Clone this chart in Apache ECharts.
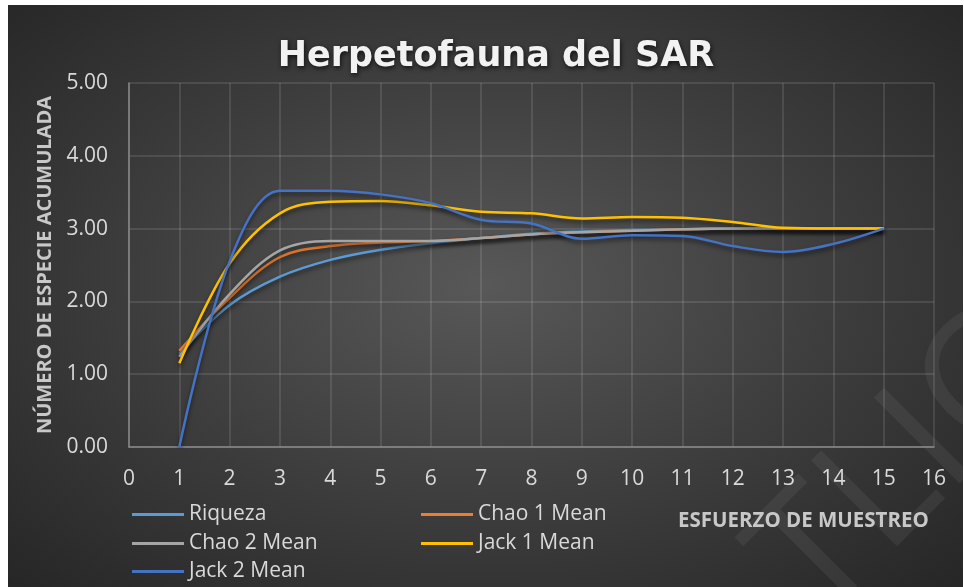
<!DOCTYPE html>
<html>
<head>
<meta charset="utf-8">
<script src="https://cdn.jsdelivr.net/npm/echarts@6/dist/echarts.min.js"></script>
<style>
  html, body { margin: 0; padding: 0; background: #ffffff; }
  #bg {
    position: absolute; left: 8px; top: 5px; width: 955px; height: 582px;
    background: radial-gradient(ellipse farthest-corner at 50% 48%, #585858 0%, #3e3e3e 50%, #262626 100%);
  }
  #chart { position: absolute; left: 0; top: 0; width: 964px; height: 587px; }
</style>
</head>
<body>
<div id="bg"></div>
<div id="chart"></div>
<script>
// Sampling effort (x) and accumulated species estimators
const esfuerzo = [1, 2, 3, 4, 5, 6, 7, 8, 9, 10, 11, 12, 13, 14, 15];
const riqueza  = [1.28, 1.95, 2.34, 2.57, 2.71, 2.80, 2.87, 2.93, 2.96, 2.98, 2.99, 3.00, 3.00, 3.00, 3.00];
const chao1    = [1.32, 2.05, 2.61, 2.76, 2.81, 2.83, 2.87, 2.92, 2.95, 2.97, 2.99, 3.00, 3.00, 3.00, 3.00];
const chao2    = [1.24, 2.10, 2.70, 2.83, 2.83, 2.83, 2.87, 2.92, 2.95, 2.97, 2.99, 3.00, 3.00, 3.00, 3.00];
const jack1    = [1.15, 2.52, 3.21, 3.37, 3.38, 3.32, 3.23, 3.21, 3.14, 3.16, 3.15, 3.09, 3.01, 3.00, 3.00];
const jack2    = [0.00, 2.55, 3.52, 3.52, 3.47, 3.35, 3.12, 3.07, 2.86, 2.91, 2.90, 2.76, 2.68, 2.79, 3.00];

const seriesNames = ['Riqueza', 'Chao 1 Mean', 'Chao 2 Mean', 'Jack 1 Mean', 'Jack 2 Mean'];
const seriesValues = [riqueza, chao1, chao2, jack1, jack2];
const seriesColors = ['#5B9BD5', '#ED7D31', '#A5A5A5', '#FFC000', '#4472C4'];

const FONT = '"Open Sans", "Noto Sans", sans-serif';

// legend slots: two columns, three rows
const legendSlots = [
  { left: 132, top: 504 }, // Riqueza
  { left: 421, top: 504 }, // Chao 1 Mean
  { left: 132, top: 533 }, // Chao 2 Mean
  { left: 421, top: 533 }, // Jack 1 Mean
  { left: 132, top: 561 }  // Jack 2 Mean
];

const chart = echarts.init(document.getElementById('chart'), null, { renderer: 'canvas' });

const series = seriesNames.map((name, i) => ({
  name: name,
  type: 'line',
  smooth: 0.35,
  symbol: 'none',
  data: esfuerzo.map((x, j) => [x, seriesValues[i][j]]),
  lineStyle: {
    color: seriesColors[i],
    width: 2.5,
    shadowColor: 'rgba(0,0,0,0.55)',
    shadowBlur: 4,
    shadowOffsetY: 3
  },
  itemStyle: { color: seriesColors[i] },
  z: 3 + i
}));

const legends = seriesNames.map((name, i) => ({
  left: legendSlots[i].left,
  top: legendSlots[i].top,
  padding: 0,
  icon: 'rect',
  itemWidth: 52,
  itemHeight: 3,
  data: [name],
  textStyle: { color: '#d9d9d9', fontFamily: FONT, fontSize: 21 }
}));

chart.setOption({
  backgroundColor: 'transparent',
  animation: false,
  title: {
    text: 'Herpetofauna del SAR',
    left: 491,
    top: 34,
    textAlign: 'center',
    textStyle: {
      fontFamily: '"DejaVu Sans", sans-serif',
      fontSize: 35,
      fontWeight: 'bold',
      color: '#f2f2f2',
      textShadowColor: 'rgba(0,0,0,0.7)',
      textShadowBlur: 5,
      textShadowOffsetX: 1,
      textShadowOffsetY: 2
    }
  },
  grid: { left: 129, right: 30, top: 83, bottom: 140, containLabel: false },
  xAxis: {
    type: 'value',
    min: 0,
    max: 16,
    interval: 1,
    axisLine: { show: true, lineStyle: { color: '#8a8a8a', width: 1.5 } },
    axisTick: { show: false },
    axisLabel: { color: '#d9d9d9', fontFamily: FONT, fontSize: 21, margin: 22 },
    splitLine: { show: true, lineStyle: { color: 'rgba(255,255,255,0.14)', width: 1.5 } }
  },
  yAxis: {
    type: 'value',
    min: 0,
    max: 5,
    interval: 1,
    name: 'NÚMERO DE ESPECIE ACUMULADA',
    nameLocation: 'middle',
    nameRotate: 90,
    nameGap: 74,
    nameTextStyle: { color: '#c8c8c8', fontFamily: FONT, fontSize: 20, fontWeight: 'bold' },
    axisLine: { show: true, lineStyle: { color: '#8a8a8a', width: 1.5 } },
    axisTick: { show: false },
    axisLabel: {
      color: '#d9d9d9', fontFamily: FONT, fontSize: 21, margin: 21,
      formatter: v => v.toFixed(2)
    },
    splitLine: { show: true, lineStyle: { color: 'rgba(255,255,255,0.14)', width: 1.5 } }
  },
  legend: legends,
  graphic: [
    {
      type: 'text',
      left: 678,
      top: 511,
      style: {
        text: 'ESFUERZO DE MUESTREO',
        fill: '#c8c8c8',
        font: 'bold 20.5px ' + FONT
      },
      z: 10
    },
    {
      type: 'text',
      x: 845,
      y: 650,
      rotation: Math.PI / 4,
      style: {
        text: 'TLIC',
        fill: 'rgba(255,255,255,0.06)',
        font: '400 170px ' + FONT,
        textVerticalAlign: 'bottom'
      },
      silent: true,
      z: 0
    }
  ],
  series: series
});
</script>
</body>
</html>
